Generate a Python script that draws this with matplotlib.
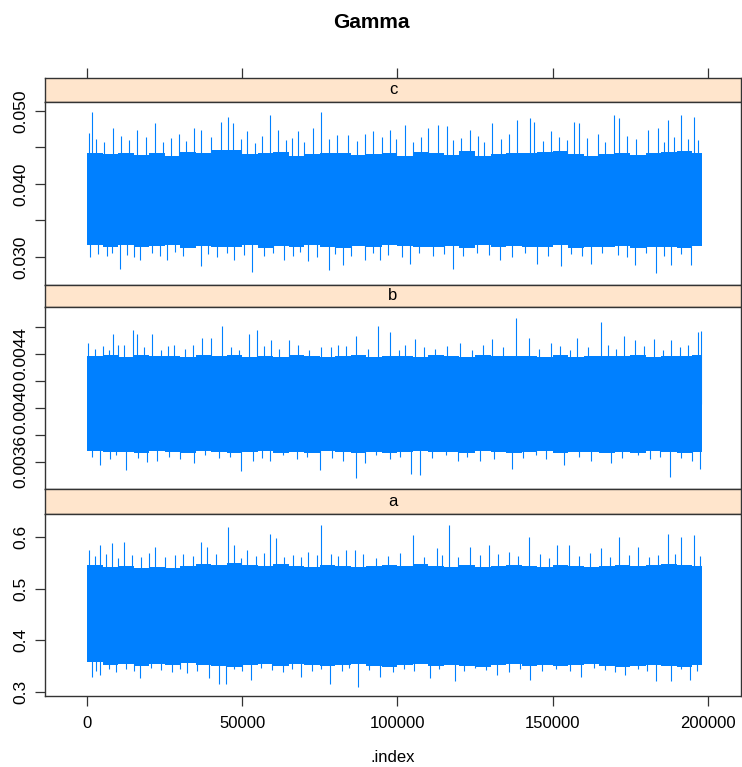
import matplotlib
matplotlib.use("Agg")
import matplotlib.pyplot as plt

# MCMC trace plot of the Gamma parameters (a, b, c), lattice style

plt.rcParams['font.family'] = ['Liberation Sans', 'DejaVu Sans']

# block index for the dense band (every 5000 iterations, last one = end of chain)
blk_x = [0, 5000, 10000, 15000, 20000, 25000, 30000, 35000, 40000, 45000,
         50000, 55000, 60000, 65000, 70000, 75000, 80000, 85000, 90000, 95000,
         100000, 105000, 110000, 115000, 120000, 125000, 130000, 135000, 140000, 145000,
         150000, 155000, 160000, 165000, 170000, 175000, 180000, 185000, 190000, 195000,
         198000]

# panel c
c_top = [0.0442, 0.0441, 0.0443, 0.0440, 0.0442, 0.0439, 0.0444, 0.0443, 0.0446, 0.0446,
         0.0441, 0.0442, 0.0444, 0.0439, 0.0441, 0.0443, 0.0442, 0.0440, 0.0441, 0.0443,
         0.0439, 0.0444, 0.0442, 0.0440, 0.0445, 0.0439, 0.0441, 0.0443, 0.0442, 0.0444,
         0.0445, 0.0441, 0.0439, 0.0441, 0.0443, 0.0440, 0.0442, 0.0444, 0.0445, 0.0442,
         0.0438]
c_bot = [0.0317, 0.0314, 0.0316, 0.0313, 0.0315, 0.0316, 0.0312, 0.0315, 0.0314, 0.0313,
         0.0316, 0.0312, 0.0315, 0.0314, 0.0316, 0.0313, 0.0312, 0.0315, 0.0314, 0.0316,
         0.0315, 0.0313, 0.0314, 0.0315, 0.0312, 0.0316, 0.0314, 0.0315, 0.0313, 0.0314,
         0.0316, 0.0312, 0.0314, 0.0313, 0.0315, 0.0312, 0.0314, 0.0313, 0.0312, 0.0315,
         0.0318]
c_hi_x = [750, 1620, 8500, 16100, 22000, 34500, 36600, 43100, 45300, 47100, 51700, 59100,
          61500, 67900, 72800, 75300, 84100, 89500, 92100, 97500, 102400, 109900, 113200,
          115900, 123400, 130500, 138600, 142600, 144000, 149400, 156900, 158600, 164500,
          169900, 171500, 180700, 183900, 187200, 191500, 195600]
c_hi_y = [0.0470, 0.0499, 0.0476, 0.0474, 0.0483, 0.0476, 0.0474, 0.0485, 0.0492, 0.0483,
          0.0472, 0.0495, 0.0474, 0.0472, 0.0476, 0.0499, 0.0467, 0.0469, 0.0472, 0.0474,
          0.0481, 0.0476, 0.0481, 0.0479, 0.0474, 0.0483, 0.0488, 0.0490, 0.0485, 0.0472,
          0.0485, 0.0483, 0.0469, 0.0495, 0.0490, 0.0474, 0.0476, 0.0488, 0.0495, 0.0492]
c_lo_x = [1000, 10500, 17200, 25800, 36600, 47400, 53000, 63600, 71200, 77900, 82500,
          89500, 94300, 104000, 118000, 133200, 145000, 152600, 162300, 176400, 183200,
          188200, 194700]
c_lo_y = [0.0300, 0.0284, 0.0296, 0.0296, 0.0287, 0.0296, 0.0280, 0.0296, 0.0294, 0.0282,
          0.0289, 0.0296, 0.0296, 0.0291, 0.0284, 0.0296, 0.0291, 0.0287, 0.0291, 0.0289,
          0.0278, 0.0289, 0.0289]
# smaller excursions along the edges of the band
c_fu_x = [3000, 5500, 11000, 13500, 19000, 24500, 27000, 29500, 32000, 40000, 49500, 54000,
          56500, 64000, 66000, 70000, 78000, 80500, 87000, 95000, 99500, 105000, 107500,
          118000, 120500, 126000, 128000, 133500, 136000, 147000, 152000, 154500, 161000,
          167000, 174000, 177000, 186000, 189000, 193500, 197000]
c_fu_y = [0.0462, 0.0458, 0.0466, 0.0460, 0.0464, 0.0457, 0.0463, 0.0468, 0.0459, 0.0465,
          0.0461, 0.0456, 0.0466, 0.0460, 0.0463, 0.0458, 0.0462, 0.0467, 0.0459, 0.0464,
          0.0461, 0.0457, 0.0465, 0.0460, 0.0463, 0.0466, 0.0458, 0.0462, 0.0468, 0.0459,
          0.0464, 0.0460, 0.0463, 0.0457, 0.0466, 0.0461, 0.0458, 0.0465, 0.0462, 0.0460]
c_fd_x = [3500, 6500, 8000, 13000, 15000, 21000, 23500, 28500, 31000, 39000, 42000, 45000,
          50500, 57000, 60000, 66500, 68500, 74000, 80000, 85000, 92000, 97000, 101500,
          107000, 111500, 115000, 121000, 125500, 129500, 137000, 141000, 148500, 156000,
          159500, 166000, 171000, 174000, 180000, 186000, 191500]
c_fd_y = [0.0304, 0.0301, 0.0306, 0.0303, 0.0300, 0.0305, 0.0302, 0.0307, 0.0301, 0.0304,
          0.0300, 0.0306, 0.0303, 0.0301, 0.0305, 0.0302, 0.0307, 0.0300, 0.0304, 0.0301,
          0.0306, 0.0303, 0.0300, 0.0305, 0.0302, 0.0304, 0.0301, 0.0306, 0.0303, 0.0300,
          0.0305, 0.0302, 0.0304, 0.0301, 0.0306, 0.0303, 0.0300, 0.0305, 0.0302, 0.0304]

# panel b
b_top = [0.004385, 0.004390, 0.004380, 0.004395, 0.004382, 0.004388, 0.004378, 0.004390,
         0.004385, 0.004392, 0.004375, 0.004388, 0.004380, 0.004390, 0.004382, 0.004378,
         0.004385, 0.004390, 0.004380, 0.004388, 0.004382, 0.004378, 0.004390, 0.004385,
         0.004380, 0.004392, 0.004382, 0.004388, 0.004385, 0.004380, 0.004390, 0.004378,
         0.004385, 0.004382, 0.004388, 0.004390, 0.004380, 0.004385, 0.004388, 0.004395,
         0.004390]
b_bot = [0.003680, 0.003672, 0.003676, 0.003668, 0.003680, 0.003675, 0.003670, 0.003678,
         0.003672, 0.003668, 0.003676, 0.003680, 0.003670, 0.003674, 0.003668, 0.003678,
         0.003672, 0.003670, 0.003676, 0.003668, 0.003674, 0.003680, 0.003672, 0.003676,
         0.003670, 0.003678, 0.003674, 0.003668, 0.003672, 0.003678, 0.003670, 0.003674,
         0.003676, 0.003668, 0.003672, 0.003670, 0.003678, 0.003672, 0.003668, 0.003675,
         0.003670]
b_hi_x = [400, 8500, 11800, 14800, 16100, 21000, 28000, 37200, 40100, 43600, 52300, 54800,
          59300, 65200, 75500, 80900, 86800, 93700, 97700, 105600, 120200, 130500, 138200,
          142300, 149400, 158000, 165600, 173100, 176400, 182800, 188200, 196900, 197800]
b_hi_y = [0.00448, 0.00455, 0.00447, 0.00458, 0.00455, 0.00455, 0.00447, 0.00452, 0.00452,
          0.00461, 0.00455, 0.00458, 0.00450, 0.00450, 0.00445, 0.00447, 0.00453, 0.00461,
          0.00456, 0.00451, 0.00448, 0.00451, 0.00467, 0.00452, 0.00448, 0.00452, 0.00464,
          0.00453, 0.00450, 0.00451, 0.00450, 0.00456, 0.00457]
b_lo_x = [4200, 12600, 19300, 34500, 49600, 59100, 75000, 86800, 89500, 104500, 107200,
          126700, 136900, 153700, 168800, 187700, 197400]
b_lo_y = [0.00358, 0.00354, 0.00360, 0.00359, 0.00353, 0.00361, 0.00354, 0.00348, 0.00359,
          0.00351, 0.00350, 0.00361, 0.00355, 0.00358, 0.00359, 0.00349, 0.00355]
b_fu_x = [2500, 5000, 7000, 10000, 18500, 24000, 26000, 31500, 34000, 46500, 49000, 57000,
          62000, 68000, 71500, 78500, 83500, 90500, 100500, 102500, 108500, 112000, 116000,
          124000, 127500, 134000, 145500, 152500, 155500, 161500, 168000, 170500, 179500,
          185500, 191000, 193500]
b_fu_y = [0.00444, 0.00446, 0.00443, 0.00447, 0.00445, 0.00443, 0.00446, 0.00444, 0.00447,
          0.00445, 0.00443, 0.00446, 0.00444, 0.00447, 0.00443, 0.00445, 0.00446, 0.00444,
          0.00443, 0.00447, 0.00445, 0.00444, 0.00446, 0.00443, 0.00447, 0.00445, 0.00444,
          0.00446, 0.00443, 0.00445, 0.00447, 0.00444, 0.00446, 0.00443, 0.00445, 0.00447]
b_fd_x = [1500, 7500, 9500, 16500, 22500, 26500, 30000, 38000, 42500, 46000, 53500, 56500,
          63000, 67500, 71000, 79000, 82500, 93000, 97500, 101000, 111000, 115500, 119500,
          122500, 131000, 140500, 144500, 148000, 158500, 162500, 172500, 177500, 181500,
          184500, 191500, 195000]
b_fd_y = [0.00364, 0.00362, 0.00365, 0.00363, 0.00361, 0.00364, 0.00362, 0.00365, 0.00363,
          0.00364, 0.00361, 0.00363, 0.00365, 0.00362, 0.00364, 0.00363, 0.00361, 0.00365,
          0.00362, 0.00364, 0.00363, 0.00365, 0.00361, 0.00364, 0.00362, 0.00363, 0.00365,
          0.00362, 0.00364, 0.00361, 0.00363, 0.00365, 0.00362, 0.00364, 0.00363, 0.00361]

# panel a
a_top = [0.546, 0.542, 0.544, 0.539, 0.542, 0.540, 0.543, 0.547, 0.545, 0.550,
         0.546, 0.544, 0.548, 0.544, 0.542, 0.545, 0.543, 0.541, 0.544, 0.546,
         0.543, 0.547, 0.544, 0.542, 0.545, 0.541, 0.543, 0.546, 0.544, 0.542,
         0.545, 0.543, 0.541, 0.544, 0.546, 0.543, 0.545, 0.547, 0.546, 0.544,
         0.534]
a_bot = [0.358, 0.352, 0.355, 0.350, 0.354, 0.352, 0.356, 0.353, 0.350, 0.348,
         0.352, 0.354, 0.351, 0.355, 0.352, 0.350, 0.353, 0.355, 0.351, 0.348,
         0.352, 0.354, 0.350, 0.353, 0.351, 0.349, 0.352, 0.354, 0.351, 0.353,
         0.350, 0.352, 0.355, 0.351, 0.349, 0.350, 0.352, 0.351, 0.349, 0.352,
         0.360]
a_hi_x = [750, 4200, 8000, 12000, 22000, 36600, 38800, 45300, 47200, 51700, 59100, 60900,
          71200, 75300, 83600, 86300, 105100, 112600, 116700, 123400, 129400, 135900,
          142300, 151500, 155300, 165600, 171500, 177400, 187200, 191500, 195600]
a_hi_y = [0.574, 0.584, 0.587, 0.590, 0.581, 0.590, 0.581, 0.619, 0.584, 0.574, 0.606, 0.597,
          0.571, 0.622, 0.574, 0.574, 0.603, 0.578, 0.622, 0.581, 0.584, 0.571, 0.600, 0.584,
          0.584, 0.578, 0.600, 0.581, 0.606, 0.600, 0.603]
a_lo_x = [1500, 4200, 17200, 32300, 39300, 42600, 44700, 52800, 69000, 78200, 87200, 94300,
          110500, 118400, 132100, 142700, 159100, 173200, 183200, 188200, 194200]
a_lo_y = [0.330, 0.333, 0.327, 0.337, 0.327, 0.316, 0.316, 0.324, 0.330, 0.316, 0.311, 0.330,
          0.327, 0.321, 0.333, 0.324, 0.330, 0.333, 0.321, 0.321, 0.324]
a_fu_x = [2500, 6000, 10000, 14500, 17500, 20000, 25000, 28500, 31000, 34000, 41500, 49500,
          54500, 57000, 63500, 66500, 69000, 74000, 78500, 81000, 89000, 93000, 97000, 101000,
          108500, 114500, 119500, 126500, 132500, 139000, 146000, 149000, 158500, 162000,
          168500, 174500, 181000, 184000, 189500, 197500]
a_fu_y = [0.562, 0.566, 0.559, 0.565, 0.561, 0.568, 0.560, 0.564, 0.567, 0.562, 0.566, 0.559,
          0.563, 0.568, 0.561, 0.565, 0.560, 0.564, 0.567, 0.562, 0.566, 0.559, 0.563, 0.568,
          0.561, 0.565, 0.560, 0.564, 0.567, 0.562, 0.566, 0.559, 0.563, 0.568, 0.561, 0.565,
          0.560, 0.564, 0.567, 0.562]
a_fd_x = [3000, 7000, 9500, 12500, 15000, 20500, 24000, 27500, 30000, 35500, 47500, 50000,
          56000, 59500, 63000, 66000, 72500, 75500, 82000, 84500, 91000, 98500, 102000,
          105500, 113500, 121500, 125000, 128500, 136000, 139500, 146500, 151000, 155500,
          163500, 167000, 170000, 177500, 180500, 191500, 196500]
a_fd_y = [0.342, 0.345, 0.340, 0.344, 0.341, 0.346, 0.343, 0.340, 0.345, 0.342, 0.344, 0.341,
          0.346, 0.343, 0.340, 0.345, 0.342, 0.344, 0.341, 0.346, 0.343, 0.340, 0.345, 0.342,
          0.344, 0.341, 0.346, 0.343, 0.340, 0.345, 0.342, 0.344, 0.341, 0.346, 0.343, 0.340,
          0.345, 0.342, 0.344, 0.341]

x_ticks = [0, 50000, 100000, 150000, 200000]

W, H = 742, 767
fig = plt.figure(figsize=(W / 100, H / 100), dpi=100)


def rect(l, t, r, b):
    return [l / W, 1 - b / H, (r - l) / W, (b - t) / H]


blue = '#0080ff'
frame = '#333333'
xlim = (-13530, 210700)

panels = [
    ('c', 78, 102, 285, c_top, c_bot, c_hi_x + c_fu_x, c_hi_y + c_fu_y,
     c_lo_x + c_fd_x, c_lo_y + c_fd_y,
     (0.02616, 0.05123), [0.030, 0.035, 0.040, 0.045, 0.050],
     ['0.030', '', '0.040', '', '0.050']),
    ('b', 285, 307, 489, b_top, b_bot, b_hi_x + b_fu_x, b_hi_y + b_fu_y,
     b_lo_x + b_fd_x, b_lo_y + b_fd_y,
     (0.0034, 0.004748), [0.0036, 0.0038, 0.0040, 0.0042, 0.0044, 0.0046],
     ['0.0036', '', '0.0040', '', '0.0044', '']),
    ('a', 489, 514, 696, a_top, a_bot, a_hi_x + a_fu_x, a_hi_y + a_fu_y,
     a_lo_x + a_fd_x, a_lo_y + a_fd_y,
     (0.2929, 0.6437), [0.3, 0.4, 0.5, 0.6],
     ['0.3', '0.4', '0.5', '0.6']),
]

for i, (name, st, pt, pb, top, bot, hx, hy, lx, ly, ylim, yt, ytl) in enumerate(panels):
    # strip with the panel name
    sax = fig.add_axes(rect(45, st, 741, pt))
    sax.set_facecolor('#ffe5cc')
    sax.set_xlim(xlim)
    sax.set_yticks([])
    sax.text(0.5, 0.5, name, transform=sax.transAxes, ha='center', va='center', fontsize=12)
    for s in sax.spines.values():
        s.set_color(frame)
        s.set_linewidth(1.0)
    if i == 0:
        sax.set_xticks(x_ticks)
        sax.tick_params(axis='x', top=True, bottom=False, labeltop=False, labelbottom=False,
                        direction='out', length=7.2, width=0.9, color=frame)
    else:
        sax.set_xticks([])

    # trace panel
    ax = fig.add_axes(rect(45, pt, 741, pb))
    mid = (top[0] + bot[0]) / 2
    ax.fill_between(blk_x, bot, top, step='post', color=blue, linewidth=0)
    ax.vlines(hx, mid, hy, color=blue, linewidth=0.8)
    ax.vlines(lx, ly, mid, color=blue, linewidth=0.8)
    ax.set_xlim(xlim)
    ax.set_ylim(ylim)
    ax.set_yticks(yt)
    ax.set_yticklabels(ytl, rotation=90, va='center')
    ax.tick_params(axis='y', direction='out', length=7.2, width=0.9, color=frame,
                   labelsize=12.5, pad=5)
    for s in ax.spines.values():
        s.set_color(frame)
        s.set_linewidth(1.0)
    if i == 2:
        ax.set_xticks(x_ticks)
        ax.set_xticklabels([str(v) for v in x_ticks])
        ax.tick_params(axis='x', direction='out', length=7.2, width=0.9, color=frame,
                       labelsize=12, pad=7)
    else:
        ax.set_xticks([])

fig.text(371 / W, 1 - 22 / H, 'Gamma', ha='center', va='center', fontsize=15, fontweight='bold')
fig.text(393 / W, 1 - 757 / H, '.index', ha='center', va='center', fontsize=12)

fig.savefig('out.png', dpi=100)
